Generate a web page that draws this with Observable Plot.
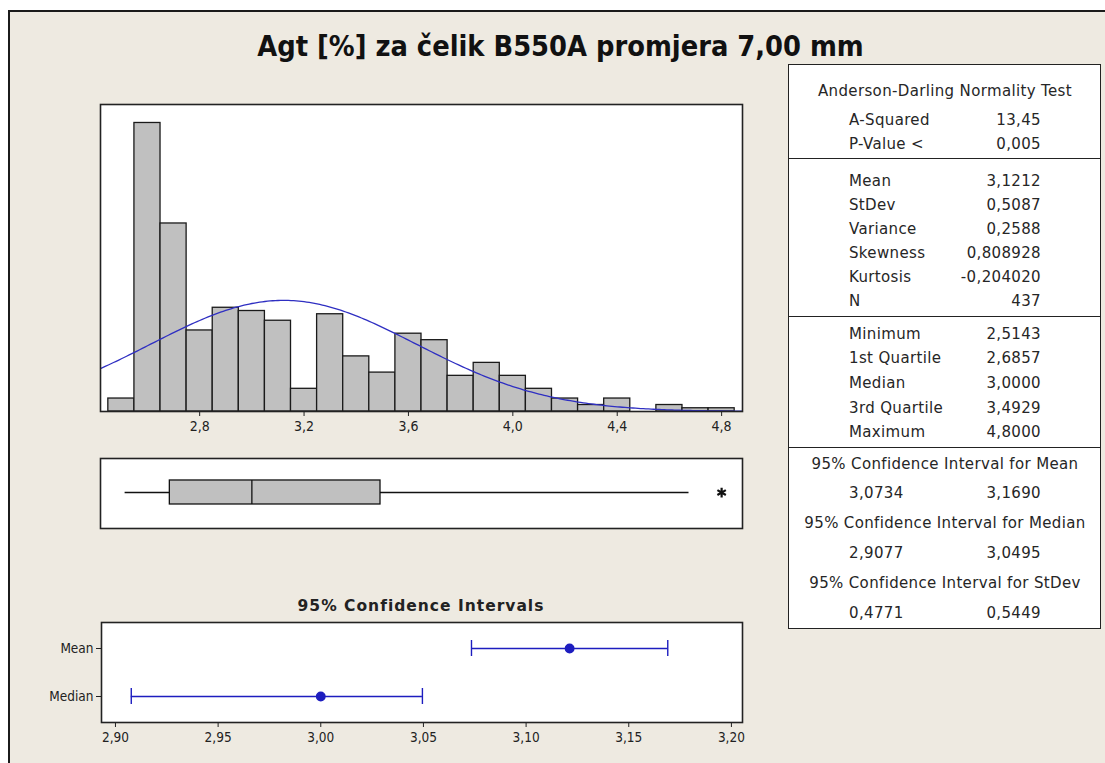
<!DOCTYPE html>
<html>
<head>
<meta charset="utf-8">
<script src="https://cdn.jsdelivr.net/npm/d3@7"></script>
<script src="https://cdn.jsdelivr.net/npm/@observablehq/plot@0.6"></script>
<style>
  html, body { margin: 0; padding: 0; background: #ffffff; }
  #root { position: relative; width: 1105px; height: 763px; overflow: hidden; font-family: "DejaVu Sans", sans-serif; color: #222; }
  #bg { position: absolute; left: 8px; top: 10px; width: 1110px; height: 770px; background: #EEEAE1; border-left: 2px solid #1b1b1b; border-top: 2px solid #1b1b1b; }
  .abs { position: absolute; }
  #title { left: 0; width: 1121px; top: 29px; text-align: center; font-family: "DejaVu Sans Condensed", "DejaVu Sans", sans-serif; font-weight: bold; font-size: 28.7px; line-height: 34px; color: #111; }
  #cititle { left: 171px; width: 500px; top: 596px; text-align: center; font-family: "DejaVu Sans", sans-serif; font-weight: bold; font-size: 15.5px; letter-spacing: 1px; line-height: 20px; color: #222; }
  #table { left: 788px; top: 64px; width: 311px; height: 563px; background: #fff; border: 1.5px solid #222; }
  .div { position: absolute; left: 0; width: 100%; height: 0; border-top: 1.5px solid #222; }
  .cell { position: absolute; height: 20px; line-height: 20px; font-size: 15px; letter-spacing: 0.35px; white-space: nowrap; color: #262626; }
  #hist svg text { font-size: 14px; font-family: "DejaVu Sans Condensed", "DejaVu Sans", sans-serif; fill: #222; }
  #ci svg text { font-size: 13.5px; font-family: "DejaVu Sans Condensed", "DejaVu Sans", sans-serif; fill: #222; }
</style>
</head>
<body>
<div id="root">
  <div id="bg"></div>
  <div id="title" class="abs">Agt [%] za čelik B550A promjera 7,00 mm</div>
  <div id="hist" class="abs" style="left:60px; top:90px;"></div>
  <div id="box" class="abs" style="left:60px; top:445px;"></div>
  <div id="cititle" class="abs">95% Confidence Intervals</div>
  <div id="ci" class="abs" style="left:0px; top:610px;"></div>
  <div id="table" class="abs"></div>
</div>
<script>
// ---------------- DATA ----------------
const binCenters = [2.5, 2.6, 2.7, 2.8, 2.9, 3.0, 3.1, 3.2, 3.3, 3.4, 3.5, 3.6, 3.7, 3.8, 3.9, 4.0, 4.1, 4.2, 4.3, 4.4, 4.5, 4.6, 4.7, 4.8];
const binCounts  = [4,   89,  58,  25,  32,  31,  28,  7,   30,  17,  12,  24,  22,  11,  15,  11,  7,   4,   2,   4,   0,   2,   1,   1];
const histTicks = [2.8, 3.2, 3.6, 4.0, 4.4, 4.8];

const mean = 3.1212, stdev = 0.5087, nObs = 437, binWidth = 0.1;
const minimum = 2.5143, q1 = 2.6857, median = 3.0000, q3 = 3.4929, maximum = 4.8000;
const upperWhisker = 4.675;      // largest value inside the upper fence
const outliers = [4.8];

const ciNames = ["Mean", "Median"];
const ciEstimates = [3.1212, 3.0000];
const ciLower = [3.0734, 2.9077];
const ciUpper = [3.1690, 3.0495];
const ciTicks = [2.90, 2.95, 3.00, 3.05, 3.10, 3.15, 3.20];

const adLabels = ["A-Squared", "P-Value <"];
const adValues = ["13,45", "0,005"];
const descLabels = ["Mean", "StDev", "Variance", "Skewness", "Kurtosis", "N"];
const descValues = ["3,1212", "0,5087", "0,2588", "0,808928", "-0,204020", "437"];
const quantLabels = ["Minimum", "1st Quartile", "Median", "3rd Quartile", "Maximum"];
const quantValues = ["2,5143", "2,6857", "3,0000", "3,4929", "4,8000"];
const ciHeaders = ["95% Confidence Interval for Mean", "95% Confidence Interval for Median", "95% Confidence Interval for StDev"];
const ciTableLo = ["3,0734", "2,9077", "0,4771"];
const ciTableHi = ["3,1690", "3,0495", "0,5449"];

// ---------------- HELPERS ----------------
const comma1 = d => d.toFixed(1).replace(".", ",");
const comma2 = d => d.toFixed(2).replace(".", ",");
const axisFont = '"DejaVu Sans Condensed", "DejaVu Sans", sans-serif';
const xDomain = [2.42, 4.88];

// ---------------- HISTOGRAM ----------------
const hist = binCenters.map((c, i) => ({c, n: binCounts[i]}));
// fitted normal curve from the reported mean / stdev / N
const curveXs = d3.range(xDomain[0], xDomain[1] + 0.005, 0.01);
const curve = curveXs.map(x => ({x, y: nObs * binWidth / (stdev * Math.sqrt(2 * Math.PI)) * Math.exp(-0.5 * ((x - mean) / stdev) ** 2)}));

const histPlot = Plot.plot({
  width: 700, height: 345,
  marginLeft: 40, marginRight: 18, marginTop: 14, marginBottom: 24,
  style: {background: "transparent", fontFamily: axisFont, fontSize: "14px", color: "#222", overflow: "visible"},
  x: {domain: xDomain, ticks: histTicks, tickFormat: comma1, tickSize: 5, tickPadding: 5, label: null},
  y: {domain: [0, 94.7], axis: null},
  marks: [
    Plot.frame({fill: "#ffffff", stroke: null}),
    Plot.rectY(hist, {x1: d => d.c - binWidth / 2, x2: d => d.c + binWidth / 2, y: "n", fill: "#c0c0c0", stroke: "#1a1a1a", strokeWidth: 1.3}),
    Plot.line(curve, {x: "x", y: "y", stroke: "#2f2fc2", strokeWidth: 1.3, clip: "frame"}),
    Plot.frame({stroke: "#222", strokeWidth: 1.6})
  ]
});
document.getElementById("hist").appendChild(histPlot);

// ---------------- BOX PLOT ----------------
const boxStats = [{q1, median, q3, lo: minimum, hi: upperWhisker}];
const boxPlot = Plot.plot({
  width: 700, height: 95,
  marginLeft: 40, marginRight: 18, marginTop: 13, marginBottom: 12,
  style: {background: "transparent", fontFamily: axisFont},
  x: {domain: xDomain, axis: null},
  y: {domain: [0, 1], axis: null},
  marks: [
    Plot.frame({fill: "#ffffff", stroke: null}),
    Plot.ruleY(boxStats, {x1: "lo", x2: "q1", y: 0.514, stroke: "#111", strokeWidth: 1.3}),
    Plot.ruleY(boxStats, {x1: "q3", x2: "hi", y: 0.514, stroke: "#111", strokeWidth: 1.3}),
    Plot.rect(boxStats, {x1: "q1", x2: "q3", y1: 0.343, y2: 0.686, fill: "#c0c0c0", stroke: "#111", strokeWidth: 1.3}),
    Plot.ruleX(boxStats, {x: "median", y1: 0.343, y2: 0.686, stroke: "#111", strokeWidth: 1.3}),
    Plot.dot(outliers, {x: d => d, y: 0.514, symbol: "asterisk", r: 4.6, stroke: "#111", strokeWidth: 2.2}),
    Plot.frame({stroke: "#222", strokeWidth: 1.6})
  ]
});
document.getElementById("box").appendChild(boxPlot);

// ---------------- CONFIDENCE INTERVALS ----------------
const ci = ciNames.map((name, i) => ({name, est: ciEstimates[i], lo: ciLower[i], hi: ciUpper[i]}));
const ciEnds = ci.flatMap(d => [{name: d.name, x: d.lo}, {name: d.name, x: d.hi}]);
const blue = "#1d1dbf";
const ciPlot = Plot.plot({
  width: 760, height: 145,
  marginLeft: 101, marginRight: 18, marginTop: 12, marginBottom: 33,
  style: {background: "transparent", fontFamily: axisFont, fontSize: "13.5px", color: "#222"},
  x: {domain: [2.8932, 3.2054], ticks: ciTicks, tickFormat: comma2, tickSize: 5, tickPadding: 5, label: null},
  y: {type: "band", domain: ciNames, paddingInner: 0.667, paddingOuter: 0.375, tickSize: 5, tickPadding: 3, label: null},
  marks: [
    Plot.frame({fill: "#ffffff", stroke: null}),
    Plot.ruleY(ci, {x1: "lo", x2: "hi", y: "name", stroke: blue, strokeWidth: 1.4}),
    Plot.tickX(ciEnds, {x: "x", y: "name", stroke: blue, strokeWidth: 1.4}),
    Plot.dot(ci, {x: "est", y: "name", r: 4.2, fill: blue, stroke: blue}),
    Plot.frame({stroke: "#222", strokeWidth: 1.6})
  ]
});
document.getElementById("ci").appendChild(ciPlot);

// ---------------- STATISTICS TABLE ----------------
const table = document.getElementById("table");
const T0 = 64, L0 = 788;           // table origin on the page
const labelX = 848, valueRight = 1042, centerX = 944;
function cell(text, yCenter, opts) {
  const el = document.createElement("div");
  el.className = "cell";
  el.textContent = text;
  el.style.top = (yCenter - 10 - T0) + "px";
  if (opts.align === "left") { el.style.left = (opts.x - L0) + "px"; }
  else if (opts.align === "right") { el.style.right = (L0 + 313 - opts.x) + "px"; el.style.textAlign = "right"; }
  else { el.style.width = "314px"; el.style.textAlign = "center"; el.style.left = (opts.x - L0 - 157) + "px"; }
  table.appendChild(el);
}
function divider(y) {
  const el = document.createElement("div");
  el.className = "div";
  el.style.top = (y - T0) + "px";
  table.appendChild(el);
}
cell("Anderson-Darling Normality Test", 90, {align: "center", x: centerX});
const adY = [119, 143];
adLabels.forEach((t, i) => { cell(t, adY[i], {align: "left", x: labelX}); cell(adValues[i], adY[i], {align: "right", x: valueRight}); });
divider(157);
const descY = [180, 204, 228, 252, 276, 300];
descLabels.forEach((t, i) => { cell(t, descY[i], {align: "left", x: labelX}); cell(descValues[i], descY[i], {align: "right", x: valueRight}); });
divider(315);
const quantY = [333, 357, 382, 407, 431];
quantLabels.forEach((t, i) => { cell(t, quantY[i], {align: "left", x: labelX}); cell(quantValues[i], quantY[i], {align: "right", x: valueRight}); });
divider(446);
const ciHdrY = [463, 522, 582], ciValY = [492, 552, 612];
ciHeaders.forEach((t, i) => {
  cell(t, ciHdrY[i], {align: "center", x: centerX});
  cell(ciTableLo[i], ciValY[i], {align: "left", x: labelX});
  cell(ciTableHi[i], ciValY[i], {align: "right", x: valueRight});
});
</script>
</body>
</html>
